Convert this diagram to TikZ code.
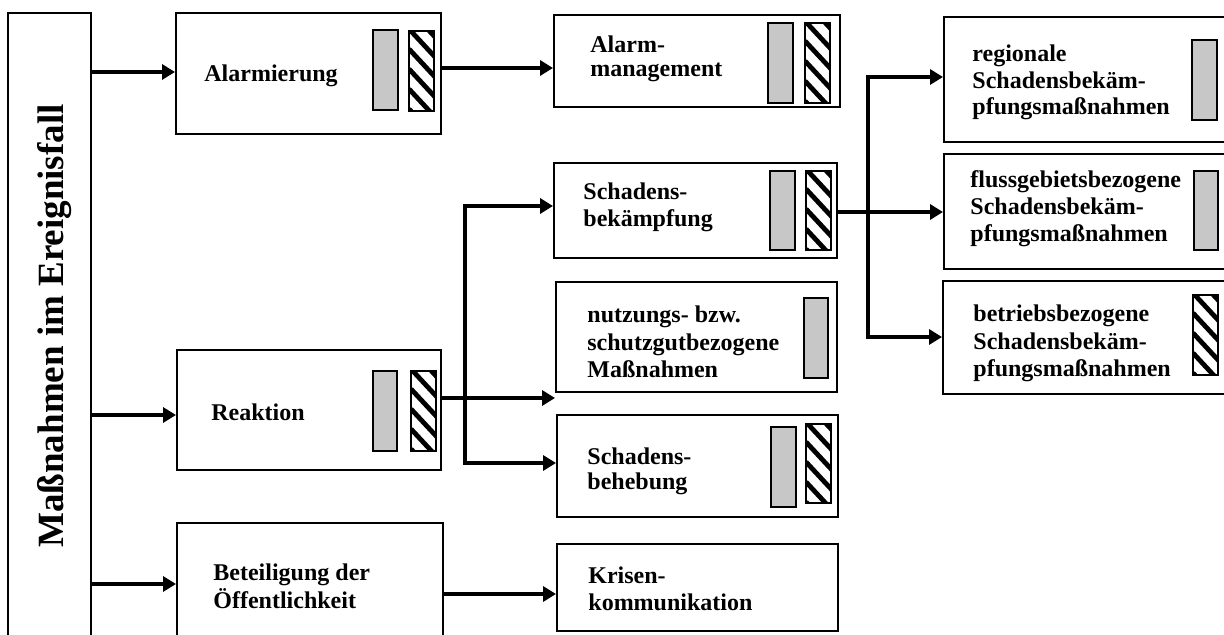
\documentclass[tikz,border=0pt]{standalone}
\usepackage{fontspec}
\setmainfont{Liberation Serif}
\usetikzlibrary{arrows.meta,fit}

% left-aligned block of lines whose baseline is that of the first line
\newcommand\textlines[2][13.5pt]{\vtop{\baselineskip=#1\relax\lineskiplimit=-20pt\halign{##\hfil\cr#2\crcr}}}

\begin{document}
\begin{tikzpicture}[x=0.5pt, y=-0.5pt,
  box/.style={draw, line width=1pt, inner sep=0pt},
  graybar/.style={draw, line width=1pt, fill=black!22, inner sep=0pt},
  hatchbar/.style={draw, line width=1pt, fill=white, inner sep=0pt,
    path picture={
      \foreach \k in {-2,...,5}{
        \draw[line width=2.4pt]
          ([yshift=-\k*10pt+1pt]path picture bounding box.north west) -- ++(13pt,-14pt);
      }}},
  lbl/.style={anchor=base west, inner sep=0pt, font=\bfseries\fontsize{12}{13.5}\selectfont},
  link/.style={line width=2pt, -{Triangle[length=6.5pt,width=7.5pt]}},
  plain/.style={line width=2pt},
]
\clip (0,0) rectangle (1224,635);
\fill[white] (0,0) rectangle (1224,635);

% main frame with the vertical title
\node[box, fit={(8,13) (91,700)}] (L) {};
\node[rotate=90, anchor=base west, inner sep=0pt,
      font=\bfseries\fontsize{18.5}{22}\selectfont] (title) at (63,548) {Maßnahmen im Ereignisfall};

% first level
\node[box, fit={(176,13) (441,134)}] (A) {};
\node[graybar, fit={(373,30) (398,110)}] (Ag) {};
\node[hatchbar, fit={(409,31) (434,111)}] (Ah) {};
\node[lbl] (tA) at (204,82) {Alarmierung};

\node[box, fit={(177,350) (441,470)}] (R) {};
\node[graybar, fit={(373,371) (397,451)}] (Rg) {};
\node[hatchbar, fit={(411,371) (436,451)}] (Rh) {};
\node[lbl] (tR) at (211,421) {Reaktion};

\node[box, fit={(177,523) (443,700)}] (B) {};
\node[lbl] (tB) at (213,580) {\textlines[14pt]{Beteiligung der\cr Öffentlichkeit}};

% second level
\node[box, fit={(554,15) (840,107)}] (AM) {};
\node[graybar, fit={(768,23) (793,103)}] (AMg) {};
\node[hatchbar, fit={(805,23) (830,103)}] (AMh) {};
\node[lbl] (tAM) at (590,53) {\textlines[12pt]{Alarm-\cr management}};

\node[box, fit={(554,163) (837,258)}] (SB) {};
\node[graybar, fit={(770,171) (795,250)}] (SBg) {};
\node[hatchbar, fit={(806,171) (831,250)}] (SBh) {};
\node[lbl] (tSB) at (583,200) {\textlines{Schadens-\cr bekämpfung}};

\node[box, fit={(556,282) (837,392)}] (N) {};
\node[graybar, fit={(804,298) (828,378)}] (Ng) {};
\node[lbl] (tN) at (587,323) {\textlines[13.75pt]{nutzungs- bzw.\cr schutzgutbezogene\cr Maßnahmen}};

\node[box, fit={(557,415) (838,517)}] (SH) {};
\node[graybar, fit={(771,427) (796,507)}] (SHg) {};
\node[hatchbar, fit={(806,424) (831,503)}] (SHh) {};
\node[lbl] (tSH) at (587,464) {\textlines[13pt]{Schadens-\cr behebung}};

\node[box, fit={(557,544) (838,631)}] (K) {};
\node[lbl] (tK) at (588,583) {\textlines{Krisen-\cr kommunikation}};

% third level
\node[box, fit={(944,17) (1240,142)}] (RG) {};
\node[graybar, fit={(1192,40) (1217,120)}] (RGg) {};
\node[lbl] (tRG) at (972,62) {\textlines[13.25pt]{regionale\cr Schadensbekäm-\cr pfungsmaßnahmen}};

\node[box, fit={(944,154) (1240,269)}] (FG) {};
\node[graybar, fit={(1194,171) (1218,250)}] (FGg) {};
\node[lbl] (tFG) at (970,188) {\textlines[13.5pt]{flussgebietsbezogene\cr Schadensbekäm-\cr pfungsmaßnahmen}};

\node[box, fit={(943,281) (1240,394)}] (BB) {};
\node[hatchbar, fit={(1193,295) (1218,375)}] (BBh) {};
\node[lbl] (tBB) at (973,322) {\textlines[13.75pt]{betriebsbezogene\cr Schadensbekäm-\cr pfungsmaßnahmen}};

% connectors from the main frame
\draw[link] (L.east |- 0,72) -- (A.west |- 0,72);
\draw[link] (L.east |- 0,415) -- (R.west |- 0,415);
\draw[link] (L.east |- 0,584) -- (B.west |- 0,584);

% first to second level
\draw[link] (A.east |- 0,68) -- (AM.west |- 0,68);
\coordinate (rsplit) at (465,398);
\draw[plain] (R.east |- rsplit) -- (rsplit);
\draw[link] (rsplit) -- (N.west |- rsplit);
\draw[link] (rsplit) |- (SB.west |- 0,206);
\draw[link] (rsplit) |- (SH.west |- 0,463);
\draw[link] (B.east |- 0,594) -- (K.west |- 0,594);

% second to third level
\coordinate (ssplit) at (868,212);
\draw[link] (SB.east |- ssplit) -- (FG.west |- ssplit);
\draw[link] (ssplit) |- (RG.west |- 0,77);
\draw[link] (ssplit) |- (BB.west |- 0,337);
\end{tikzpicture}
\end{document}
